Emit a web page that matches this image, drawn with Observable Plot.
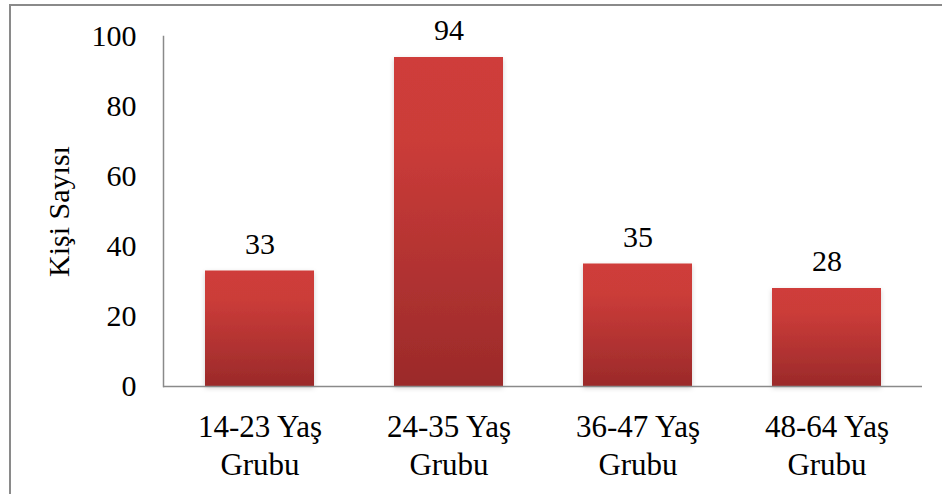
<!DOCTYPE html>
<html>
<head>
<meta charset="utf-8">
<script src="https://cdn.jsdelivr.net/npm/d3@7"></script>
<script src="https://cdn.jsdelivr.net/npm/@observablehq/plot@0.6"></script>
<style>
  html, body { margin: 0; padding: 0; background: #fff; }
  #wrap { position: relative; width: 942px; height: 494px; overflow: hidden; }
  #border { position: absolute; left: 9px; top: 4px; width: 960px; height: 520px;
            border-left: 2px solid #8a8a8a; border-top: 2px solid #8a8a8a; box-sizing: border-box; }
  #chart { position: absolute; left: 0; top: 0; }
  #chart svg, #chart svg text, #chart svg g { font-family: "Liberation Serif", "Times New Roman", serif !important; }
</style>
</head>
<body>
<div id="wrap"><div id="border"></div><div id="chart"></div></div>
<script>
const categories = ["14-23 Yaş\nGrubu", "24-35 Yaş\nGrubu", "36-47 Yaş\nGrubu", "48-64 Yaş\nGrubu"];
const values = [33, 94, 35, 28];
const yTicks = [0, 20, 40, 60, 80, 100];
const yLabel = "Kişi Sayısı";

const data = categories.map((c, i) => ({cat: c, value: values[i]}));
const font = "Liberation Serif";

const chart = Plot.plot({
  width: 942,
  height: 494,
  marginLeft: 163,
  marginRight: 20,
  marginTop: 36,
  marginBottom: 108,
  style: {fontFamily: font, fontSize: "30px", color: "#000", background: "transparent"},
  x: {domain: categories, paddingInner: 0.425, paddingOuter: 0.213, label: null},
  y: {domain: [0, 100], label: null},
  marks: [
    Plot.barY(data, {x: "cat", y: "value", fill: "url(#barGrad)"}),
    Plot.text(data, {x: "cat", y: "value", text: d => String(d.value), dy: -27, fontSize: 30, fill: "#000", fontFamily: font}),
    Plot.ruleY([0], {stroke: "#8a8a8a", strokeWidth: 1.5}),
    Plot.frame({anchor: "left", stroke: "#8a8a8a", strokeWidth: 1.5}),
    Plot.axisY({ticks: yTicks, tickSize: 0, tickPadding: 27, fontSize: 30, fontFamily: font, label: yLabel, labelArrow: false, labelAnchor: "center", labelOffset: 116}),
    Plot.axisX({tickSize: 0, tickPadding: 24, fontSize: 31, fontFamily: font, lineHeight: 1.22, label: null})
  ]
});

const svg = d3.select(chart);
const defs = svg.insert("defs", ":first-child");
const g = defs.append("linearGradient").attr("id", "barGrad")
  .attr("x1", 0).attr("y1", 0).attr("x2", 0).attr("y2", 1);
g.append("stop").attr("offset", "0%").attr("stop-color", "#cf3d3a");
g.append("stop").attr("offset", "25%").attr("stop-color", "#cb3c39");
g.append("stop").attr("offset", "100%").attr("stop-color", "#9b2a2a");
const f = defs.append("filter").attr("id", "barShadow")
  .attr("x", "-10%").attr("y", "-10%").attr("width", "120%").attr("height", "120%");
f.append("feDropShadow").attr("dx", 0).attr("dy", 2).attr("stdDeviation", 2.5)
  .attr("flood-color", "#000").attr("flood-opacity", 0.18);
svg.selectAll("rect").filter(function() { return this.getAttribute("fill") === "url(#barGrad)" || (this.parentNode && this.parentNode.getAttribute("fill") === "url(#barGrad)"); })
  .attr("filter", "url(#barShadow)");
svg.selectAll("text").each(function() {
  const t = this.textContent;
  if (t.includes("→") || t.includes("↑")) this.textContent = t.replace(/\s*[→↑]\s*/g, "");
});

document.getElementById("chart").appendChild(chart);
</script>
</body>
</html>
